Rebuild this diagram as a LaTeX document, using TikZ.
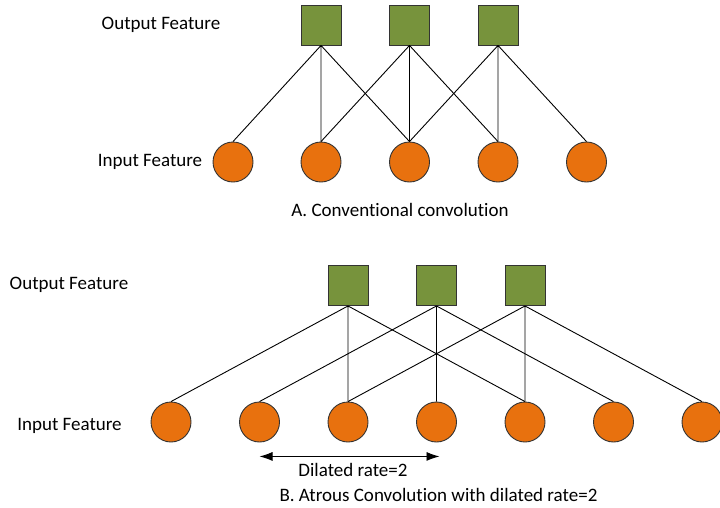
\documentclass[tikz,border=0pt]{standalone}
\usepackage{fontspec}
\setmainfont{Carlito}[Ligatures=NoCommon]
\usetikzlibrary{arrows.meta}
\definecolor{featgreen}{RGB}{119,147,60}
\definecolor{featorange}{RGB}{232,113,14}

\begin{document}
\begin{tikzpicture}[x=1pt,y=-1pt,
    outf/.style={draw=black!80,fill=featgreen,line width=0.9pt,minimum size=40pt,inner sep=0pt},
    inf/.style={circle,draw=black!80,fill=featorange,line width=0.9pt,minimum size=40pt,inner sep=0pt},
    lbl/.style={anchor=base,inner sep=0pt,font=\fontsize{19}{23}\selectfont},
    link/.style={line width=0.9pt}]
    \useasboundingbox (0,0) rectangle (720,507);
    % A. conventional convolution
    \node[lbl] (outa) at (161,29) {Output Feature};
    \node[lbl] (ina) at (150,166) {Input Feature};
    \node[outf] (sa1) at (321,25) {};
    \node[outf] (sa2) at (409.5,25) {};
    \node[outf] (sa3) at (498,25) {};
    \node[inf] (ca1) at (233,162) {};
    \node[inf] (ca2) at (321,162) {};
    \node[inf] (ca3) at (409.5,162) {};
    \node[inf] (ca4) at (498,162) {};
    \node[inf] (ca5) at (586.5,162) {};
    \draw[link] (sa1.south) -- (ca1.north) (sa1.south) -- (ca2.north) (sa1.south) -- (ca3.north);
    \draw[link] (sa2.south) -- (ca2.north) (sa2.south) -- (ca3.north) (sa2.south) -- (ca4.north);
    \draw[link] (sa3.south) -- (ca3.north) (sa3.south) -- (ca4.north) (sa3.south) -- (ca5.north);
    \node[lbl] (capa) at (400,216.5) {A. Conventional convolution};
    % B. atrous convolution
    \node[lbl] (outb) at (69,289) {Output Feature};
    \node[lbl] (inb) at (69.5,430) {Input Feature};
    \node[outf] (sb1) at (348,285.5) {};
    \node[outf] (sb2) at (436.5,285.5) {};
    \node[outf] (sb3) at (525,285.5) {};
    \node[inf] (cb1) at (171,422) {};
    \node[inf] (cb2) at (259.5,422) {};
    \node[inf] (cb3) at (348,422) {};
    \node[inf] (cb4) at (436.5,422) {};
    \node[inf] (cb5) at (525,422) {};
    \node[inf] (cb6) at (613.5,422) {};
    \node[inf] (cb7) at (702,422) {};
    \draw[link] (sb1.south) -- (cb1.north) (sb1.south) -- (cb3.north) (sb1.south) -- (cb5.north);
    \draw[link] (sb2.south) -- (cb2.north) (sb2.south) -- (cb4.north) (sb2.south) -- (cb6.north);
    \draw[link] (sb3.south) -- (cb3.north) (sb3.south) -- (cb5.north) (sb3.south) -- (cb7.north);
    \draw[link,{Latex[length=13pt,width=9pt]}-{Latex[length=13pt,width=9pt]}] ([yshift=-14pt]cb2.south) -- ([yshift=-14pt,xshift=3pt]cb4.south);
    \node[lbl] (rate) at (353,476) {Dilated rate=2};
    \node[lbl] (capb) at (438.5,501) {B. Atrous Convolution with dilated rate=2};
\end{tikzpicture}
\end{document}
